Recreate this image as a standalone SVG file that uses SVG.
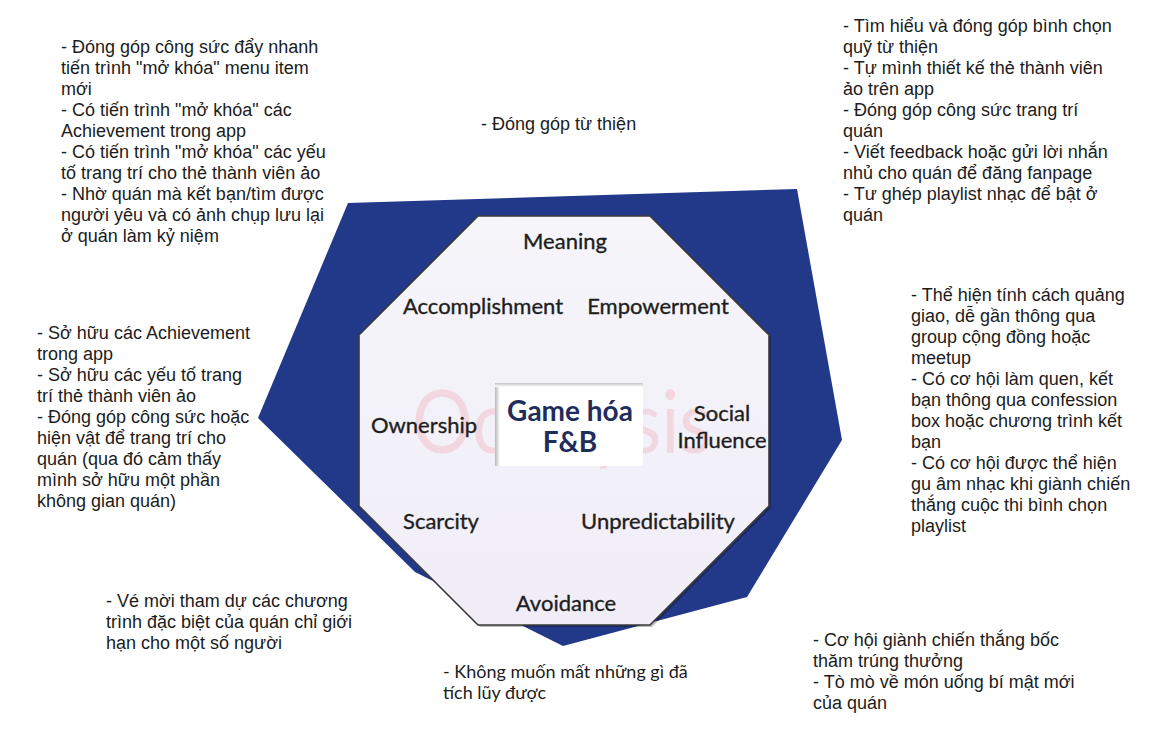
<svg xmlns="http://www.w3.org/2000/svg" width="1165" height="744" viewBox="0 0 1165 744">
<style>
.note{font-family:"Liberation Sans",Arial,sans-serif;font-size:18px;fill:#1c1c1c}
.note2{font-family:Lato,"Noto Sans",sans-serif;font-size:18px;fill:#1c1c1c}
.lbl{font-family:Lato,"Noto Sans",sans-serif;font-size:22px;fill:#1e1e1e;stroke:#1e1e1e;stroke-width:0.35;text-anchor:middle}
.title{font-family:Lato,"Noto Sans",sans-serif;font-size:28px;font-weight:bold;fill:#1f2d5c;text-anchor:middle}
</style>
<defs>
<linearGradient id="octFill" x1="0" y1="0" x2="0" y2="1">
<stop offset="0" stop-color="#f6f5fa"/>
<stop offset="1" stop-color="#f0edf7"/>
</linearGradient>
<linearGradient id="boxL" x1="0" y1="0" x2="1" y2="0">
<stop offset="0" stop-color="#b8b8b8"/>
<stop offset="1" stop-color="#ffffff"/>
</linearGradient>
<linearGradient id="boxT" x1="0" y1="0" x2="0" y2="1">
<stop offset="0" stop-color="#c4c4c4"/>
<stop offset="1" stop-color="#ffffff"/>
</linearGradient>
</defs>
<rect width="1165" height="744" fill="#ffffff"/>

<g id="background-shape">
<polygon points="348,203 797,189 842,440 747,597 563,646 415,572 258,418" fill="#22398a"/>
</g>

<g id="octagon">
<polygon points="480,218 652,218 771,337 771,508 652,627 480,627 361,508 361,337" fill="#000" opacity="0.25"/>
<polygon points="478,216 650,216 769,335 769,506 650,625 478,625 359,506 359,335" fill="url(#octFill)" stroke="#3a3a3a" stroke-width="1.6"/>
<text x="412" y="453" font-family="Lato,'Noto Sans',sans-serif" font-size="88" fill="#f2c6d1" opacity="0.6" textLength="300" lengthAdjust="spacingAndGlyphs">Octalysis</text>
</g>

<g id="center">
<rect x="495" y="383" width="148" height="83" fill="#ffffff"/>
<rect x="495" y="383" width="5" height="83" fill="url(#boxL)"/>
<rect x="495" y="383" width="148" height="4" fill="url(#boxT)"/>
<text class="title" x="570" y="421">Game hóa</text>
<text class="title" x="570" y="452">F&amp;B</text>
</g>

<g id="drive-meaning"><text class="lbl" x="565" y="249">Meaning</text></g>
<g id="drive-accomplishment"><text class="lbl" x="483" y="314">Accomplishment</text></g>
<g id="drive-empowerment"><text class="lbl" x="658" y="314">Empowerment</text></g>
<g id="drive-ownership"><text class="lbl" x="424" y="433">Ownership</text></g>
<g id="drive-social"><text class="lbl" x="722" y="421">Social</text><text class="lbl" x="722" y="448">Influence</text></g>
<g id="drive-scarcity"><text class="lbl" x="441" y="529">Scarcity</text></g>
<g id="drive-unpredictability"><text class="lbl" x="658" y="529">Unpredictability</text></g>
<g id="drive-avoidance"><text class="lbl" x="566" y="611">Avoidance</text></g>

<g id="connectors"></g>

<g id="note-accomplishment">
<text class="note" x="61" y="53">
<tspan x="61" y="53">- Đóng góp công sức đẩy nhanh</tspan>
<tspan x="61" y="74">tiến trình "mở khóa" menu item</tspan>
<tspan x="61" y="95">mới</tspan>
<tspan x="61" y="116">- Có tiến trình "mở khóa" các</tspan>
<tspan x="61" y="137">Achievement trong app</tspan>
<tspan x="61" y="158">- Có tiến trình "mở khóa" các yếu</tspan>
<tspan x="61" y="179">tố trang trí cho thẻ thành viên ảo</tspan>
<tspan x="61" y="200">- Nhờ quán mà kết bạn/tìm được</tspan>
<tspan x="61" y="221">người yêu và có ảnh chụp lưu lại</tspan>
<tspan x="61" y="242">ở quán làm kỷ niệm</tspan>
</text>
</g>

<g id="note-meaning">
<text class="note" x="481" y="130">- Đóng góp từ thiện</text>
</g>

<g id="note-empowerment">
<text class="note" x="843" y="32">
<tspan x="843" y="32">- Tìm hiểu và đóng góp bình chọn</tspan>
<tspan x="843" y="53">quỹ từ thiện</tspan>
<tspan x="843" y="74">- Tự mình thiết kế thẻ thành viên</tspan>
<tspan x="843" y="95">ảo trên app</tspan>
<tspan x="843" y="116">- Đóng góp công sức trang trí</tspan>
<tspan x="843" y="137">quán</tspan>
<tspan x="843" y="158">- Viết feedback hoặc gửi lời nhắn</tspan>
<tspan x="843" y="179">nhủ cho quán để đăng fanpage</tspan>
<tspan x="843" y="200">- Tư ghép playlist nhạc để bật ở</tspan>
<tspan x="843" y="221">quán</tspan>
</text>
</g>

<g id="note-ownership">
<text class="note" x="37" y="339">
<tspan x="37" y="339">- Sở hữu các Achievement</tspan>
<tspan x="37" y="360">trong app</tspan>
<tspan x="37" y="381">- Sở hữu các yếu tố trang</tspan>
<tspan x="37" y="402">trí thẻ thành viên ảo</tspan>
<tspan x="37" y="423">- Đóng góp công sức hoặc</tspan>
<tspan x="37" y="444">hiện vật để trang trí cho</tspan>
<tspan x="37" y="465">quán (qua đó cảm thấy</tspan>
<tspan x="37" y="486">mình sở hữu một phần</tspan>
<tspan x="37" y="507">không gian quán)</tspan>
</text>
</g>

<g id="note-social">
<text class="note" x="911" y="301">
<tspan x="911" y="301">- Thể hiện tính cách quảng</tspan>
<tspan x="911" y="322">giao, dễ gần thông qua</tspan>
<tspan x="911" y="343">group cộng đồng hoặc</tspan>
<tspan x="911" y="364">meetup</tspan>
<tspan x="911" y="385">- Có cơ hội làm quen, kết</tspan>
<tspan x="911" y="406">bạn thông qua confession</tspan>
<tspan x="911" y="427">box hoặc chương trình kết</tspan>
<tspan x="911" y="448">bạn</tspan>
<tspan x="911" y="469">- Có cơ hội được thể hiện</tspan>
<tspan x="911" y="490">gu âm nhạc khi giành chiến</tspan>
<tspan x="911" y="511">thắng cuộc thi bình chọn</tspan>
<tspan x="911" y="532">playlist</tspan>
</text>
</g>

<g id="note-scarcity">
<text class="note" x="106" y="607">
<tspan x="106" y="607">- Vé mời tham dự các chương</tspan>
<tspan x="106" y="628">trình đặc biệt của quán chỉ giới</tspan>
<tspan x="106" y="649">hạn cho một số người</tspan>
</text>
</g>

<g id="note-avoidance">
<text class="note2" x="443" y="678">
<tspan x="443" y="678">- Không muốn mất những gì đã</tspan>
<tspan x="443" y="699">tích lũy được</tspan>
</text>
</g>

<g id="note-unpredictability">
<text class="note" x="813" y="646">
<tspan x="813" y="646">- Cơ hội giành chiến thắng bốc</tspan>
<tspan x="813" y="667">thăm trúng thưởng</tspan>
<tspan x="813" y="688">- Tò mò về món uống bí mật mới</tspan>
<tspan x="813" y="709">của quán</tspan>
</text>
</g>
</svg>
